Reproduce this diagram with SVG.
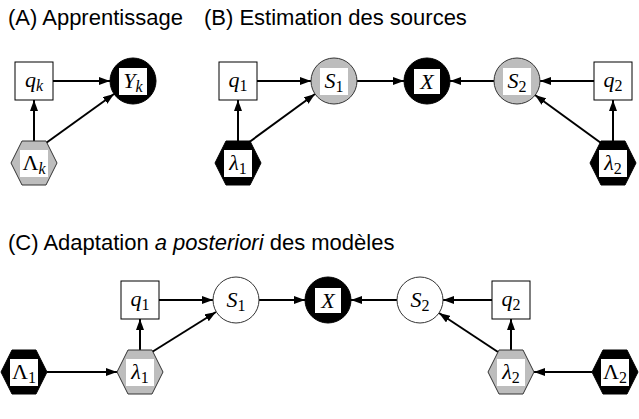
<svg xmlns="http://www.w3.org/2000/svg" width="639" height="419" viewBox="0 0 639 419">
<style>
.title{font-family:"Liberation Sans",Arial,sans-serif;font-size:22px;fill:#000}
.lbl{font-family:"Liberation Serif","Times New Roman",serif;font-size:22px;fill:#000;text-anchor:middle}
.it{font-style:italic}
.sub{font-size:16px}
.box{fill:#fff;stroke:#000;stroke-width:1}
.blk{fill:#000;stroke:#000;stroke-width:1}
.gry{fill:#bdbdbd;stroke:#333;stroke-width:1}
.wht{fill:#fff;stroke:#333;stroke-width:1}
.lb{fill:#fff;stroke:none}
.edge{stroke:#000;stroke-width:2;fill:none;marker-end:url(#ah)}
</style>
<defs>
<marker id="ah" markerUnits="userSpaceOnUse" markerWidth="11" markerHeight="8" refX="11" refY="4" orient="auto">
<path d="M0,0 L11,4 L0,8 z" fill="#000"/>
</marker>
<path id="hex" d="M-23,0 L-12,-22 L12,-22 L23,0 L12,22 L-12,22 z"/>
</defs>

<text class="title" x="8" y="25">(A) Apprentissage</text>
<text class="title" x="204" y="25">(B) Estimation des sources</text>
<text class="title" x="8" y="250">(C) Adaptation <tspan font-style="italic">a posteriori</tspan> des modèles</text>

<g id="connectors">
<line class="edge" x1="53" y1="81" x2="110" y2="81"/>
<line class="edge" x1="34" y1="141" x2="34" y2="100"/>
<line class="edge" x1="46" y1="143" x2="114" y2="94"/>

<line class="edge" x1="257" y1="81" x2="311" y2="81"/>
<line class="edge" x1="357" y1="81" x2="404" y2="81"/>
<line class="edge" x1="494" y1="81" x2="450" y2="81"/>
<line class="edge" x1="594" y1="81" x2="540" y2="81"/>
<line class="edge" x1="238" y1="141" x2="238" y2="100"/>
<line class="edge" x1="248" y1="143" x2="315" y2="94"/>
<line class="edge" x1="613" y1="141" x2="613" y2="100"/>
<line class="edge" x1="601" y1="143" x2="535" y2="95"/>

<line class="edge" x1="47" y1="372" x2="117" y2="372"/>
<line class="edge" x1="140" y1="350" x2="140" y2="319"/>
<line class="edge" x1="152" y1="352" x2="216" y2="312"/>
<line class="edge" x1="159" y1="300" x2="213" y2="300"/>
<line class="edge" x1="259" y1="300" x2="305" y2="300"/>
<line class="edge" x1="397" y1="300" x2="351" y2="300"/>
<line class="edge" x1="492" y1="300" x2="443" y2="300"/>
<line class="edge" x1="511" y1="350" x2="511" y2="319"/>
<line class="edge" x1="498" y1="352" x2="439" y2="313"/>
<line class="edge" x1="592" y1="372" x2="534" y2="372"/>
</g>

<!-- Panel A -->
<g id="A_qk">
<rect class="box" x="15" y="62" width="38" height="38"/>
<text class="lbl" x="34" y="87"><tspan class="it">q</tspan><tspan class="sub it" dy="4">k</tspan></text>
</g>
<g id="A_Yk">
<circle class="blk" cx="133" cy="81" r="23"/>
<rect class="lb" x="119" y="68" width="28" height="27"/>
<text class="lbl" x="133" y="88"><tspan class="it">Y</tspan><tspan class="sub it" dy="4">k</tspan></text>
</g>
<g id="A_Lk">
<use href="#hex" class="gry" x="34" y="163"/>
<rect class="lb" x="20" y="150" width="28" height="27"/>
<text class="lbl" x="34" y="170">Λ<tspan class="sub it" dy="4">k</tspan></text>
</g>

<!-- Panel B -->
<g id="B_q1">
<rect class="box" x="219" y="62" width="38" height="38"/>
<text class="lbl" x="238" y="87"><tspan class="it">q</tspan><tspan class="sub" dy="4">1</tspan></text>
</g>
<g id="B_S1">
<circle class="gry" cx="334" cy="81" r="23"/>
<rect class="lb" x="320" y="68" width="28" height="27"/>
<text class="lbl" x="334" y="88"><tspan class="it">S</tspan><tspan class="sub" dy="4">1</tspan></text>
</g>
<g id="B_X">
<circle class="blk" cx="427" cy="81" r="23"/>
<rect class="lb" x="414" y="69" width="26" height="25"/>
<text class="lbl" x="427" y="89"><tspan class="it">X</tspan></text>
</g>
<g id="B_S2">
<circle class="gry" cx="517" cy="81" r="23"/>
<rect class="lb" x="503" y="68" width="28" height="27"/>
<text class="lbl" x="517" y="88"><tspan class="it">S</tspan><tspan class="sub" dy="4">2</tspan></text>
</g>
<g id="B_q2">
<rect class="box" x="594" y="62" width="38" height="38"/>
<text class="lbl" x="613" y="87"><tspan class="it">q</tspan><tspan class="sub" dy="4">2</tspan></text>
</g>
<g id="B_l1">
<use href="#hex" class="blk" x="238" y="163"/>
<rect class="lb" x="224" y="150" width="28" height="27"/>
<text class="lbl" x="238" y="170"><tspan class="it">λ</tspan><tspan class="sub" dy="4">1</tspan></text>
</g>
<g id="B_l2">
<use href="#hex" class="blk" x="613" y="163"/>
<rect class="lb" x="599" y="150" width="28" height="27"/>
<text class="lbl" x="613" y="170"><tspan class="it">λ</tspan><tspan class="sub" dy="4">2</tspan></text>
</g>

<!-- Panel C -->
<g id="C_q1">
<rect class="box" x="121" y="281" width="38" height="38"/>
<text class="lbl" x="140" y="306"><tspan class="it">q</tspan><tspan class="sub" dy="4">1</tspan></text>
</g>
<g id="C_S1">
<circle class="wht" cx="236" cy="300" r="23"/>
<text class="lbl" x="236" y="307"><tspan class="it">S</tspan><tspan class="sub" dy="4">1</tspan></text>
</g>
<g id="C_X">
<circle class="blk" cx="328" cy="300" r="23"/>
<rect class="lb" x="315" y="288" width="26" height="25"/>
<text class="lbl" x="328" y="308"><tspan class="it">X</tspan></text>
</g>
<g id="C_S2">
<circle class="wht" cx="420" cy="300" r="23"/>
<text class="lbl" x="420" y="307"><tspan class="it">S</tspan><tspan class="sub" dy="4">2</tspan></text>
</g>
<g id="C_q2">
<rect class="box" x="492" y="281" width="38" height="38"/>
<text class="lbl" x="511" y="306"><tspan class="it">q</tspan><tspan class="sub" dy="4">2</tspan></text>
</g>
<g id="C_L1">
<use href="#hex" class="blk" x="24" y="372"/>
<rect class="lb" x="10" y="359" width="28" height="27"/>
<text class="lbl" x="24" y="379">Λ<tspan class="sub" dy="4">1</tspan></text>
</g>
<g id="C_l1">
<use href="#hex" class="gry" x="140" y="372"/>
<rect class="lb" x="126" y="359" width="28" height="27"/>
<text class="lbl" x="140" y="379"><tspan class="it">λ</tspan><tspan class="sub" dy="4">1</tspan></text>
</g>
<g id="C_l2">
<use href="#hex" class="gry" x="511" y="372"/>
<rect class="lb" x="497" y="359" width="28" height="27"/>
<text class="lbl" x="511" y="379"><tspan class="it">λ</tspan><tspan class="sub" dy="4">2</tspan></text>
</g>
<g id="C_L2">
<use href="#hex" class="blk" x="615" y="372"/>
<rect class="lb" x="601" y="359" width="28" height="27"/>
<text class="lbl" x="615" y="379">Λ<tspan class="sub" dy="4">2</tspan></text>
</g>
</svg>
